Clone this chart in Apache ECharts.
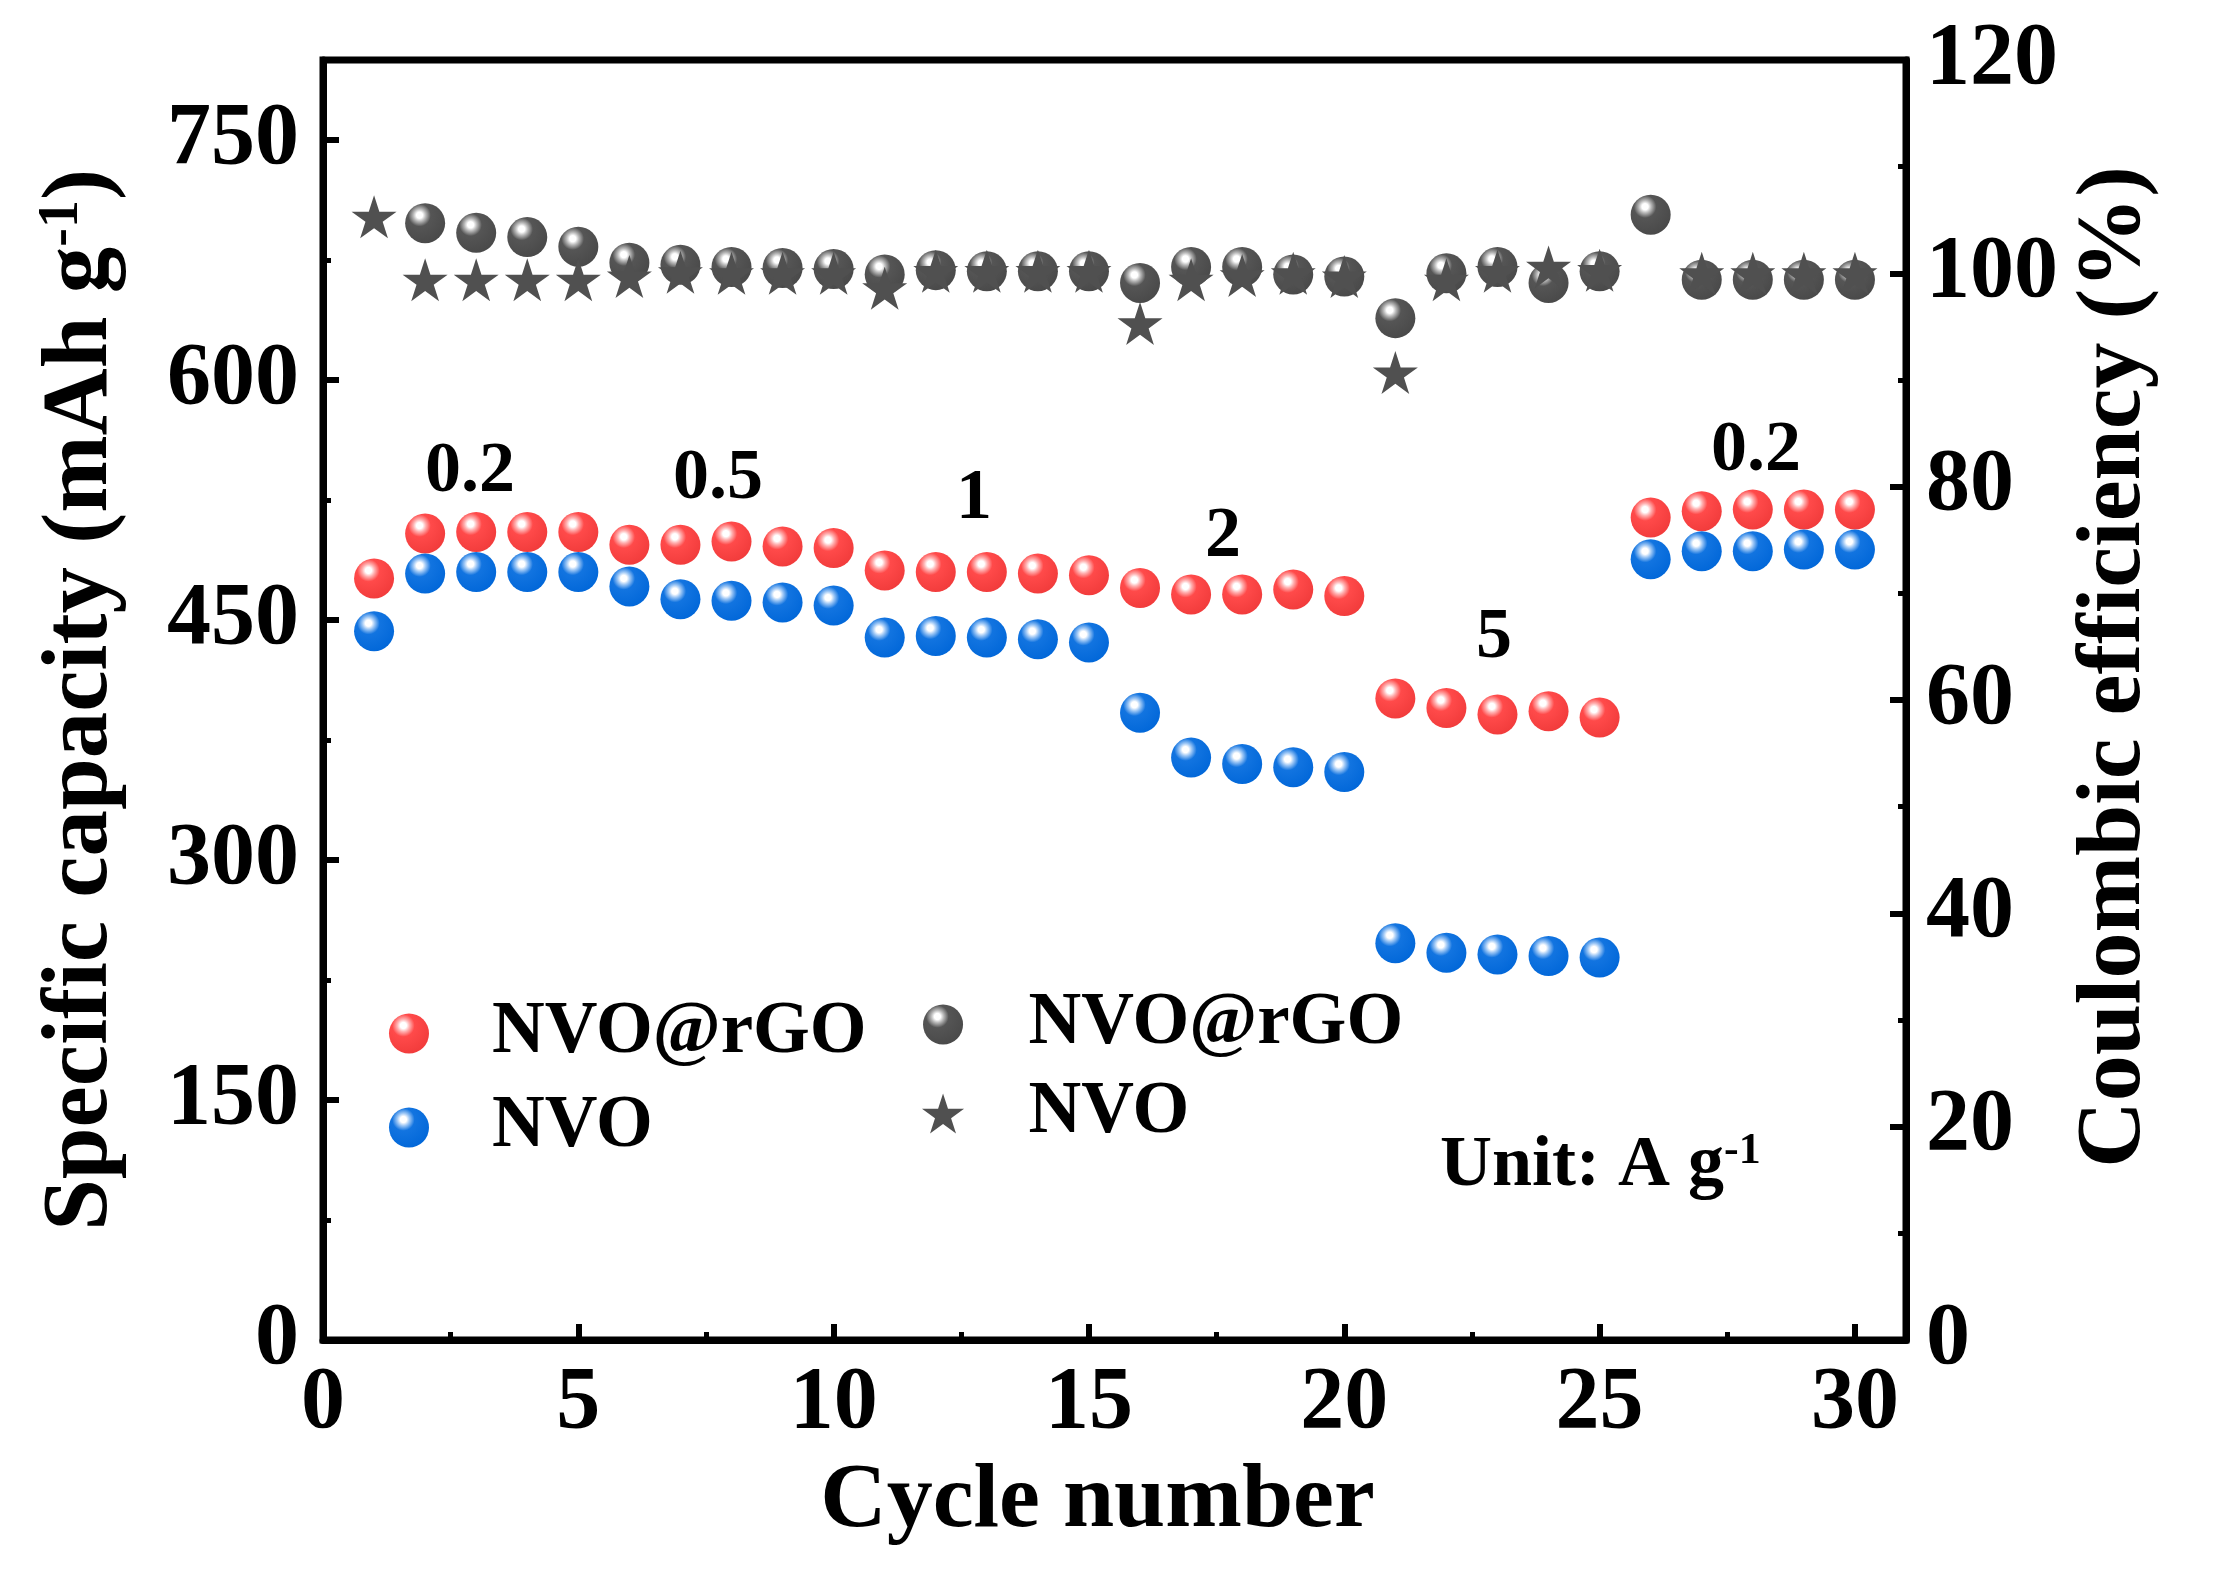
<!DOCTYPE html>
<html><head><meta charset="utf-8">
<script src="https://cdn.jsdelivr.net/npm/echarts@6/dist/echarts.min.js"></script>
<style>html,body{margin:0;padding:0;background:#fff}#c{width:2226px;height:1588px}</style>
</head><body><div id="c"></div>
<script>
// ---------- data ----------
const cycles = [1,2,3,4,5,6,7,8,9,10,11,12,13,14,15,16,17,18,19,20,21,22,23,24,25,26,27,28,29,30];
const capNVOrGO = [476,504,505,505,505,497,497,499,496,495,481,480,480,479,478,470,466,466,469,465,401,395,391,393,389,514,518,519,519,519];
const capNVO    = [443,479,480,480,480,471,463,462,461,459,439,440,439,438,436,392,364,360,358,355,248,242,241,240,239,488,493,493,494,494];
const ceNVOrGO  = [null,104.7,103.8,103.4,102.5,101.0,100.8,100.6,100.5,100.4,99.9,100.3,100.2,100.2,100.2,99.1,100.6,100.6,99.9,99.7,95.8,100.0,100.6,99.1,100.2,105.5,99.4,99.4,99.4,99.4];
const ceNVO     = [105.3,99.4,99.4,99.4,99.4,99.7,100.1,100.0,100.0,100.0,98.6,100.2,100.2,100.2,100.2,95.3,99.4,99.8,100.0,99.7,90.7,99.4,100.2,100.6,100.3,null,100.0,100.0,100.0,100.0];
const rateLabels = ['0.2','0.5','1','2','5','0.2'];
const legendNames = ['NVO@rGO','NVO'];

// ---------- styles ----------
const FONT = "'Times New Roman','Liberation Serif',serif";
function sphere(c1, c2, c3) {
  return {type:'radial', x:0.36, y:0.3, r:0.78, colorStops:[
    {offset:0, color:'#ffffff'},{offset:0.1, color:'#ffffff'},{offset:0.2, color:c1},
    {offset:0.36, color:c2},{offset:1, color:c3}]};
}
const redBall  = sphere('#ffb0b0','#ff4a4a','#f03a3a');
const blueBall = sphere('#9cc6f5','#1274e0','#0066d8');
const grayBall = sphere('#b8b8b8','#555555','#484848');
const STAR = 'path://M50,0 L61.2,34.5 L97.6,34.5 L68.2,55.9 L79.4,90.5 L50,69.1 L20.6,90.5 L31.8,55.9 L2.4,34.5 L38.8,34.5 Z';

const pts = arr => cycles.map((c,i)=>[c, arr[i]]);

const axisCommon = {
  axisLine:{show:true, onZero:false, lineStyle:{color:'#000', width:7}},
  axisTick:{show:true, inside:true, length:16, lineStyle:{color:'#000', width:6}},
  minorTick:{show:true, splitNumber:2, length:8, lineStyle:{color:'#000', width:5}},
  splitLine:{show:false},
  axisLabel:{color:'#000', fontFamily:FONT, fontWeight:'bold', fontSize:88}
};

const chart = echarts.init(document.getElementById('c'), null, {renderer:'canvas'});
const option = {
  backgroundColor:'#fff',
  animation:false,
  grid:{left:323, right:320, top:60, bottom:248, show:true, borderColor:'#000', borderWidth:7},
  xAxis:Object.assign({}, axisCommon, {
    type:'value', min:0, max:31, interval:5,
    name:'Cycle number', nameLocation:'middle', nameGap:116,
    nameTextStyle:{color:'#000', fontFamily:FONT, fontWeight:'bold', fontSize:92, padding:[0,34,0,0]},
    axisLabel:Object.assign({}, axisCommon.axisLabel, {margin:20, showMaxLabel:false,
      formatter:v => (v===31?'':String(v))})
  }),
  yAxis:[
    Object.assign({}, axisCommon, {
      type:'value', min:0, max:800, interval:150, position:'left',
      name:'Specific capacity (mAh g{sup|-1})', nameLocation:'middle', nameGap:195, nameRotate:90,
      nameTextStyle:{color:'#000', fontFamily:FONT, fontWeight:'bold', fontSize:93,
        rich:{sup:{fontFamily:FONT, fontWeight:'bold', fontSize:56, verticalAlign:'top', color:'#000'}}},
      axisLabel:Object.assign({}, axisCommon.axisLabel, {margin:24, showMaxLabel:false,
        formatter:v => (v===800?'':String(v))})
    }),
    Object.assign({}, axisCommon, {
      type:'value', min:0, max:120, interval:20, position:'right',
      name:'Coulombic efficiency (%)', nameLocation:'middle', nameGap:160, nameRotate:90,
      nameTextStyle:{color:'#000', fontFamily:FONT, fontWeight:'bold', fontSize:92, padding:[0,0,0,66]},
      axisLabel:Object.assign({}, axisCommon.axisLabel, {margin:20})
    })
  ],
  legend:[
    {orient:'vertical', left:384, top:992, itemWidth:156, itemHeight:40, itemGap:21,
     data:['NVO@rGO','NVO'],
     formatter:n=>n,
     textStyle:{color:'#000', fontFamily:FONT, fontWeight:'bold', fontSize:73, lineHeight:73}},
    {orient:'vertical', left:917, top:983, itemWidth:161, itemHeight:40, itemGap:16,
     data:['NVO@rGO CE','NVO CE'],
     formatter:n=>n.replace(' CE',''),
     textStyle:{color:'#000', fontFamily:FONT, fontWeight:'bold', fontSize:73, lineHeight:73}}
  ],
  series:[
    {name:legendNames[0], type:'scatter', yAxisIndex:0, symbol:'circle', symbolSize:40,
     itemStyle:{color:redBall, opacity:1}, data:pts(capNVOrGO), z:3},
    {name:legendNames[1], type:'scatter', yAxisIndex:0, symbol:'circle', symbolSize:40,
     itemStyle:{color:blueBall, opacity:1}, data:pts(capNVO), z:4},
    {name:legendNames[0]+' CE', type:'scatter', yAxisIndex:1, symbol:'circle', symbolSize:40,
     itemStyle:{color:grayBall, opacity:1}, data:pts(ceNVOrGO), z:5},
    {name:legendNames[1]+' CE', type:'scatter', yAxisIndex:1, symbol:STAR, symbolSize:[45,43],
     itemStyle:{color:'#505050', opacity:1}, data:pts(ceNVO), z:6}
  ],
  graphic:[]
};
chart.setOption(option);

// rate annotations placed in pixel space
const ratePos = [[470,472],[718,479],[974,499],[1223,537],[1494,638],[1756,451]];
const g = rateLabels.map((t,i)=>({type:'text', x:ratePos[i][0], y:ratePos[i][1], z:10,
  style:{text:t, fill:'#000', font:"bold 72px "+FONT, textAlign:'center', textVerticalAlign:'middle'}}));
g.push({type:'text', x:1440, y:1166, z:10,
  style:{text:'Unit: A g{sup|-1}', fill:'#000', font:"bold 72px "+FONT, textAlign:'left', textVerticalAlign:'middle',
    rich:{sup:{font:"bold 44px "+FONT, verticalAlign:'top', fill:'#000'}}}});
chart.setOption({graphic:g});
</script></body></html>
